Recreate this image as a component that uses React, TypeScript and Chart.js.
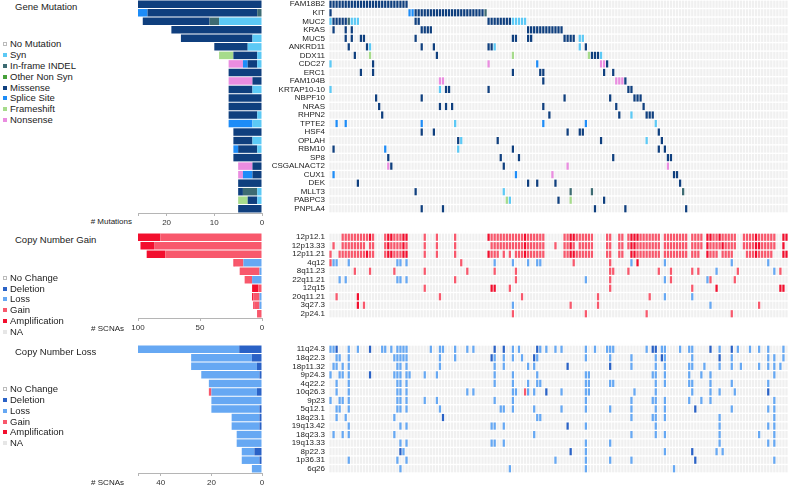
import React, { useEffect, useRef } from 'react';
import { Chart, registerables } from 'chart.js';

Chart.register(...registerables);

const FONT = '"Liberation Sans", Arial, Helvetica, sans-serif';
const N_SAMPLES = 151;
const CELL_GAP = 0.13;
const CELL_BG = '#f0f0f0';

// ---------------- Gene mutation panel ----------------
const mutGenes = ['FAM18B2', 'KIT', 'MUC2', 'KRAS', 'MUC5', 'ANKRD11', 'DDX11', 'CDC27', 'ERC1', 'FAM104B', 'KRTAP10-10', 'NBPF10', 'NRAS', 'RHPN2', 'TPTE2', 'HSF4', 'OPLAH', 'RBM10', 'SP8', 'CSGALNACT2', 'CUX1', 'DEK', 'MLLT3', 'PABPC3', 'PNPLA4'];
const mutTypeNames = ['Syn', 'In-frame INDEL', 'Other Non Syn', 'Missense', 'Splice Site', 'Frameshift', 'Nonsense'];
const mutTypeCodes = ['S', 'I', 'O', 'M', 'P', 'F', 'N'];
const mutTypeColors = ['#5cc9f5', '#3d6b72', '#46a03a', '#0f3f7e', '#1d8cf7', '#a6db8b', '#ea8de0'];

const mutSyn = [0, 0, 9, 0, 2, 3, 1, 1, 0, 0, 2, 0, 0, 1, 2, 0, 2, 1, 0, 0, 0, 0, 1, 1, 0];
const mutIndel = [0, 1, 2, 0, 0, 0, 0, 0, 0, 0, 0, 0, 0, 0, 0, 0, 0, 0, 0, 0, 0, 0, 3, 0, 0];
const mutOther = [0, 0, 0, 0, 0, 0, 0, 0, 0, 0, 0, 0, 0, 0, 0, 0, 0, 0, 0, 0, 0, 0, 0, 0, 0];
const mutMissense = [26, 23, 14, 19, 15, 7, 5, 2, 7, 2, 5, 7, 7, 6, 0, 6, 4, 4, 6, 2, 2, 5, 1, 2, 5];
const mutSplice = [0, 2, 0, 0, 0, 0, 0, 1, 0, 0, 0, 0, 0, 0, 5, 0, 0, 1, 0, 0, 2, 0, 0, 0, 0];
const mutFrameshift = [0, 0, 0, 0, 0, 0, 3, 0, 0, 0, 0, 0, 0, 0, 0, 0, 0, 0, 0, 0, 0, 0, 0, 2, 0];
const mutNonsense = [0, 0, 0, 0, 0, 0, 0, 3, 0, 5, 0, 0, 0, 0, 0, 0, 0, 0, 0, 3, 1, 0, 0, 0, 0];
const mutTicks = [0, 10, 20];
const mutMax = 26;

// per-gene mutated samples: type code + sample column (or range)
const mutCells = [
  'M0-25',
  'M0 P26-27 M28-50 I51',
  'S0 M1-5 I6 S7-9 M28-29 M52-59 S60-64',
  'M1 M5 M7 M30-33 M65-76',
  'M5 M7 M10-11 M28 M60-61 M65-66 M77-80 S82-83',
  'M6 M12 S13 M30 M34 M52-53 S54 S82 M84',
  'M8 F13 M35 F60 F85 M86-88 S89',
  'S0 M14 N52 P68 N89-90 M91',
  'M10 M14 M60 M69-70 M90 M93',
  'N36-37 M70 N94-96 M97',
  'S0 S36 M38-39 M52 M98-99',
  'M15 M30 M77 M92 M100-102',
  'M16 M36 M38 M40 M70 M94 M103',
  'M17 M72 M95 S99 M104-106',
  'P2 P5 P30 S41 P70 P84 S107',
  'M30 M34 M78 M82-83 M108',
  'M42 S43 M55 M89 S104 M109',
  'M1 P18 S42 M60 M108 M110',
  'M19 M56 M62 M93 M111-112',
  'N19 M20 M57 N78 N111',
  'P1 P61 N73 M113-114',
  'M9 M65 M68 M74 M115',
  'M28 S57 I79 I86 I116',
  'F58 S59 M75 F79 M90',
  'M30 M37 M87 M97 M117',
];

// ---------------- Copy number shared ----------------
const cnTypeNames = ['Deletion', 'Loss', 'Gain', 'Amplification'];
const cnTypeCodes = ['D', 'L', 'G', 'A'];
const cnTypeColors = ['#2a62c6', '#66a8f3', '#f8586c', '#f20f2e'];

// ---------------- Copy number gain panel ----------------
const gainRegions = ['12p12.1', '12p13.33', '12p11.21', '4q12', '8q11.23', '22q11.21', '12q15', '20q11.21', '3q27.3', '2p24.1'];
const gainDel = [0, 0, 0, 0, 0, 0, 0, 0, 0, 0];
const gainLoss = [0, 0, 0, 15, 2, 8, 0, 2, 2, 0];
const gainGain = [82, 87, 78, 7, 16, 6, 3, 5, 4, 4];
const gainAmp = [18, 11, 15, 1, 0, 0, 5, 1, 1, 0];
const gainTicks = [0, 50, 100];
const gainMax = 100;
const gainCells = [
  'G4-12 A13 G14 G18 A19-20 G21-23 A24-25 G31 G35 G41 A52 G53-63 A64 G65-70 G77-78 A79-80 G81-86 G91-92 G95-96 G98 A99-101 G102-108 G110-117 G119-122 A124-125 G126-127 A128 G129-133 G136 G137-139 A140 G141-146 A149-150',
  'G1 G4-11 G13-14 G18 A19 G20-23 A24 G25 G31 G35 G41 G53-63 A64 G65-70 G74 G77-78 A79 G80 G82-86 G91-92 G95-96 G98 A99-100 G101-108 G110-117 G119-122 A124 G125-128 A129 G130-133 G136 G137-139 A140-141 G142-146 A149',
  'G0 G3-11 A12 G13-14 G18 A19-20 G21-23 A24-25 G31 G35 G41 A52 G53-55 G57 G59 G61-63 A64 G65-70 G77-78 A79-80 G81-86 G91-92 G95-96 A99-100 G101-108 G110-117 G119-121 A124 G125-127 G129-132 G137-139 A140 G141-145 A149-150',
  'G0 L1-2 L6 L22-23 L25 G43 L54 L60 L65 L68-69 G80 G92 L99 A101 L110 L132 L144',
  'G8 G13 G21 G31 G45 G54 G61 G92-93 G98 G108 G112 G119 G121 L127 G134 L146 G148',
  'L3 L5 L22-23 L25 G41 G61 L84 G92 L110 G112 L124 G125 G133',
  'G31 A53-54 G59 G92 G119 A127 A148-149',
  'G2 A9 G36 G63 G88 G105 L110 L119',
  'A9 G11 L60 G79 G88 L125 G141',
  'G60 G84 G104 G132',
];

// ---------------- Copy number loss panel ----------------
const lossRegions = ['11q24.3', '18q22.3', '18p11.32', '9p24.3', '4q22.2', '10q26.3', '9p23', '5q12.1', '18q23.1', '19q13.42', '18q23.3', '19q13.33', '8p22.3', '1p36.31', '6q26'];
const lossDel = [9, 4, 2, 1, 0, 2, 0, 1, 1, 1, 0, 0, 3, 1, 0];
const lossLoss = [40, 24, 26, 23, 21, 18, 20, 19, 11, 11, 10, 10, 5, 7, 4];
const lossGain = [0, 0, 0, 0, 0, 1, 0, 0, 0, 0, 0, 0, 0, 0, 0];
const lossAmp = [0, 0, 0, 0, 0, 0, 0, 0, 0, 0, 0, 0, 0, 0, 0];
const lossTicks = [0, 20, 40];
const lossMax = 49;
const lossCells = [
  'L0-1 D2 L6 L9 D13 L17-18 L20 L22-25 L33 L36-37 L41 L45 L47 D54 D57 L60 L62 D68 L69 L71 L74 L76 L84 L87 L91-93 L104 D106-107 L109-110 L115 L118-119 D125 L128 D132 L134 L138 L141 L144 L149',
  'L2-3 L6 L21-25 L36 L41 D53 L54 L57 L60 L63 D67 L68 L84 L92 L99 L107 D109 L110 L119 D128 L132 L144 L146 L149',
  'L1-2 L4 L6 L22-23 L25 L36 L54 L57 L65 L67 D78 D92 L99 L107 L110 L118-119 L123 L128 L132 L135 L141 L144 L146 L148',
  'L0 L3-4 L6 D13 L21-23 L25-26 L31 L35 L54 L60 L68 L84-85 L106-107 L110 L118 L122 L125 L146',
  'L2 L6 L22-23 L25 L54 L60 L65 L68-69 L84-85 L92-93 L107 L110 L118-119 L125 L132 L144',
  'L2 L6 L22-23 L25 L45 L47 L60-61 G64 L65 L67 D71 L76 L84-85 L100 L107 L119 L125 L128 L133 D144',
  'L0 L3-4 L6 L22-23 L25 L31 L35 L54 L60 L84 L99 L106-107 L110 L118 L122 L125 L146',
  'L2-3 L6 L22-23 L25 L36 L56-57 L60 L67 L76 L84 L92 L99 L107 L110 D120 L132 L144 L146',
  'L2 L5 L21 D37 L68-69 L99 L106-107 L110 L128 L146',
  'L6 L23 L25 L53-54 L57 D78 L84 L107 L128 L144 L146',
  'L1 L4 L6 L21 L67 L99 L107 L110 L128 L141 L146',
  'L23 L25 L53-54 L57 L84 L92 L128 L144 L146',
  'D23 L24 D79 L84 L110 D119 L127 L129',
  'L6 L22 L25 L74 L84 L92 L99 D120 L146',
  'L23 L59 L84 L113',
];

// ---------------- Legends ----------------
const mutLegendNames = ['No Mutation', ...mutTypeNames];
const mutLegendColors = ['#ffffff', ...mutTypeColors];
const cnLegendNames = ['No Change', 'Deletion', 'Loss', 'Gain', 'Amplification', 'NA'];
const cnLegendColors = ['#ffffff', '#2a62c6', '#66a8f3', '#f8586c', '#f20f2e', '#e6e6e6'];

function parseCells(spec: string) {
  const out: { code: string; col: number }[] = [];
  spec.split(/\s+/).filter(Boolean).forEach((tok) => {
    const code = tok[0];
    const parts = tok.slice(1).split('-').map(Number);
    const a = parts[0];
    const b = parts.length > 1 ? parts[1] : a;
    for (let c = a; c <= b; c++) out.push({ code, col: c });
  });
  return out;
}

function barConfig(labels: string[], names: string[], colors: string[], series: number[][], max: number, ticks: number[], padTop: number, axisH: number): any {
  const tickVals = ticks.includes(max) ? ticks : [...ticks, max];
  return {
    type: 'bar',
    data: {
      labels,
      datasets: names.map((n, k) => ({ label: n, data: series[k], backgroundColor: colors[k], borderWidth: 0 })),
    },
    options: {
      indexAxis: 'y',
      responsive: false,
      maintainAspectRatio: false,
      animation: false,
      events: [],
      layout: { padding: { left: 38, right: 8, top: padTop, bottom: 0 } },
      plugins: { legend: { display: false }, tooltip: { enabled: false } },
      datasets: { bar: { barPercentage: 0.88, categoryPercentage: 1 } },
      scales: {
        x: {
          type: 'linear',
          stacked: true,
          reverse: true,
          min: 0,
          max,
          afterBuildTicks: (s: any) => { s.ticks = tickVals.map((v) => ({ value: v })); },
          afterFit: (s: any) => { s.height = axisH; s.paddingLeft = 0; s.paddingRight = 0; },
          ticks: {
            autoSkip: false,
            maxRotation: 0,
            padding: 1.5,
            color: '#333',
            font: { family: FONT, size: 8 },
            callback: (v: any) => (ticks.includes(Number(v)) ? String(v) : ''),
          },
          grid: { drawOnChartArea: false, drawTicks: true, tickLength: 3, color: '#b5b5b5' },
          border: { display: true, color: '#b5b5b5' },
        },
        y: { stacked: true, display: false },
      },
    },
  };
}

function heatConfig(labels: string[], codes: string[], colors: string[], cellSpecs: string[], padTop: number): any {
  const bg: any[] = [];
  labels.forEach((l) => {
    for (let c = 0; c < N_SAMPLES; c++) bg.push({ y: l, x: [c + CELL_GAP, c + 1 - CELL_GAP] });
  });
  const byType: any[][] = codes.map(() => []);
  cellSpecs.forEach((spec, r) => {
    parseCells(spec).forEach(({ code, col }) => {
      const k = codes.indexOf(code);
      if (k >= 0) byType[k].push({ y: labels[r], x: [col + CELL_GAP, col + 1 - CELL_GAP] });
    });
  });
  return {
    type: 'bar',
    data: {
      labels,
      datasets: [
        ...codes.map((c, k) => ({ label: c, data: byType[k], backgroundColor: colors[k], borderWidth: 0 })),
        { label: 'none', data: bg, backgroundColor: CELL_BG, borderWidth: 0 },
      ],
    },
    options: {
      indexAxis: 'y',
      responsive: false,
      maintainAspectRatio: false,
      animation: false,
      events: [],
      layout: { padding: { left: 0, right: 4, top: padTop, bottom: 1 } },
      plugins: { legend: { display: false }, tooltip: { enabled: false } },
      datasets: { bar: { grouped: false, barPercentage: 0.84, categoryPercentage: 1 } },
      scales: {
        x: { type: 'linear', display: false, min: 0, max: N_SAMPLES },
        y: {
          type: 'category',
          afterFit: (s: any) => { s.width = 79; s.paddingTop = 0; s.paddingBottom = 0; },
          grid: { display: false, drawTicks: false, tickLength: 0 },
          border: { display: false },
          ticks: { autoSkip: false, padding: 4, color: '#222', font: { family: FONT, size: 8, lineHeight: 1 } },
        },
      },
    },
  };
}

function ChartCanvas({ left, top, width, height, make }: { left: number; top: number; width: number; height: number; make: () => any }) {
  const ref = useRef<HTMLCanvasElement>(null);
  useEffect(() => {
    const chart = new Chart(ref.current as HTMLCanvasElement, make());
    return () => chart.destroy();
  }, []);
  return <canvas ref={ref} width={width} height={height} style={{ position: 'absolute', left, top, width, height }} />;
}

function Legend({ top, step, names, colors }: { top: number; step: number; names: string[]; colors: string[] }) {
  return (
    <>
      {names.map((n, i) => (
        <div key={n} style={{ position: 'absolute', left: 3, top: top + i * step - 6, height: 12, display: 'flex', alignItems: 'center', whiteSpace: 'nowrap' }}>
          <span style={{ display: 'inline-block', width: 4, height: 4, background: colors[i], border: colors[i] === '#ffffff' ? '0.5px solid #bbb' : 'none', boxSizing: 'border-box', marginRight: 3 }} />
          <span style={{ fontSize: 9.5, lineHeight: '12px', color: '#222' }}>{n}</span>
        </div>
      ))}
    </>
  );
}

function Text({ x, y, children, size = 9.5, right = false }: any) {
  const style: any = { position: 'absolute', top: y - 6, lineHeight: '12px', fontSize: size, color: '#222', whiteSpace: 'nowrap' };
  if (right) { style.left = x - 120; style.width = 120; style.textAlign = 'right'; } else { style.left = x; }
  return <div style={style}>{children}</div>;
}

export default function App() {
  return (
    <div style={{ position: 'absolute', left: 0, top: 0, width: 792, height: 488, overflow: 'hidden', background: '#fff', fontFamily: FONT }}>
      <Text x={15} y={7}>Gene Mutation</Text>
      <Legend top={43.7} step={10.95} names={mutLegendNames} colors={mutLegendColors} />
      <Text x={132} y={222} size={8} right>{'# Mutations'}</Text>
      <ChartCanvas left={100} top={0} width={170} height={232}
        make={() => barConfig(mutGenes, mutTypeNames, mutTypeColors, [mutSyn, mutIndel, mutOther, mutMissense, mutSplice, mutFrameshift, mutNonsense], mutMax, mutTicks, 0, 19)} />
      <ChartCanvas left={250} top={0} width={542} height={214}
        make={() => heatConfig(mutGenes, mutTypeCodes, mutTypeColors, mutCells, 0)} />

      <Text x={15} y={240}>Copy Number Gain</Text>
      <Legend top={277.7} step={10.85} names={cnLegendNames} colors={cnLegendColors} />
      <Text x={124} y={329} size={8} right>{'# SCNAs'}</Text>
      <ChartCanvas left={100} top={225} width={170} height={112}
        make={() => barConfig(gainRegions, cnTypeNames, cnTypeColors, [gainDel, gainLoss, gainGain, gainAmp], gainMax, gainTicks, 8, 19)} />
      <ChartCanvas left={250} top={225} width={542} height={94}
        make={() => heatConfig(gainRegions, cnTypeCodes, cnTypeColors, gainCells, 8)} />

      <Text x={15} y={351.7}>Copy Number Loss</Text>
      <Legend top={389} step={10.85} names={cnLegendNames} colors={cnLegendColors} />
      <Text x={124} y={482.7} size={8} right>{'# SCNAs'}</Text>
      <ChartCanvas left={100} top={337} width={170} height={151}
        make={() => barConfig(lossRegions, cnTypeNames, cnTypeColors, [lossDel, lossLoss, lossGain, lossAmp], lossMax, lossTicks, 8, 15)} />
      <ChartCanvas left={250} top={337} width={542} height={137}
        make={() => heatConfig(lossRegions, cnTypeCodes, cnTypeColors, lossCells, 8)} />
    </div>
  );
}
